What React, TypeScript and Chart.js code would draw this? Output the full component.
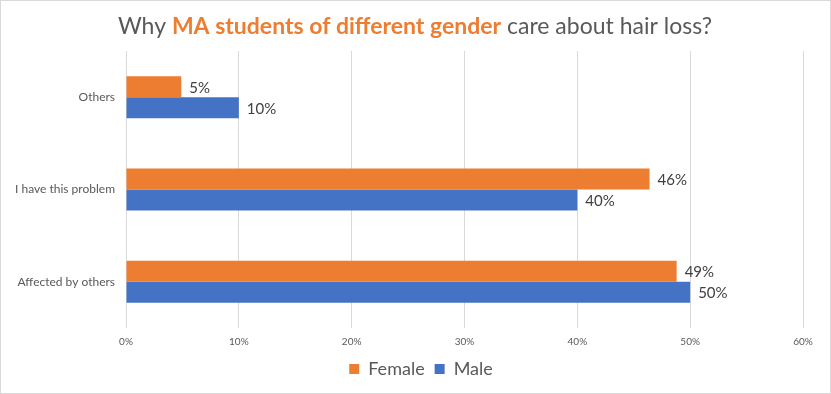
import React, { useEffect, useRef } from "react";
import { Chart, registerables } from "chart.js";

Chart.register(...registerables);

const categories = ["Others", "I have this problem", "Affected by others"];
const femaleValues = [4.9, 46.4, 48.8];
const maleValues = [10, 40, 50];
const femaleLabels = ["5%", "46%", "49%"];
const maleLabels = ["10%", "40%", "50%"];
const xTicks = [0, 10, 20, 30, 40, 50, 60];

const FONT = "Lato, 'Open Sans', sans-serif";

const titlePlugin = {
  id: "mixedTitle",
  afterDraw(chart: any) {
    const ctx = chart.ctx;
    const parts = [
      { t: "Why ", c: "#595959", w: "normal" },
      { t: "MA students of different gender", c: "#ED7D31", w: "bold" },
      { t: " care about hair loss?", c: "#595959", w: "normal" },
    ];
    const size = 23;
    ctx.save();
    let total = 0;
    const widths = parts.map((p) => {
      ctx.font = `${p.w} ${size}px ${FONT}`;
      const w = ctx.measureText(p.t).width;
      total += w;
      return w;
    });
    let x = 414 - total / 2;
    ctx.textBaseline = "middle";
    ctx.textAlign = "left";
    parts.forEach((p, i) => {
      ctx.font = `${p.w} ${size}px ${FONT}`;
      ctx.fillStyle = p.c;
      ctx.fillText(p.t, x, 26);
      x += widths[i];
    });
    ctx.restore();
  },
};

const dataLabelPlugin = {
  id: "dataLabels",
  afterDatasetsDraw(chart: any) {
    const ctx = chart.ctx;
    const labelSets = [femaleLabels, maleLabels];
    ctx.save();
    ctx.font = `15px ${FONT}`;
    ctx.fillStyle = "#404040";
    ctx.textAlign = "left";
    ctx.textBaseline = "middle";
    chart.data.datasets.forEach((_ds: any, di: number) => {
      const meta = chart.getDatasetMeta(di);
      meta.data.forEach((bar: any, i: number) => {
        ctx.fillText(labelSets[di][i], bar.x + 8, bar.y + 1);
      });
    });
    ctx.restore();
  },
};

const legendShiftPlugin = {
  id: "legendShift",
  afterLayout(chart: any) {
    if (chart.legend) {
      chart.legend.left += 19;
      chart.legend.right += 19;
    }
  },
};

export default function App() {
  const ref = useRef<HTMLCanvasElement>(null);
  useEffect(() => {
    document.body.style.margin = "0";
    const chart = new Chart(ref.current!, {
      type: "bar",
      data: {
        labels: categories,
        datasets: [
          {
            label: "Female",
            data: femaleValues,
            backgroundColor: "#ED7D31",
            borderWidth: 0,
          },
          {
            label: "Male",
            data: maleValues,
            backgroundColor: "#4472C4",
            borderWidth: 0,
          },
        ],
      },
      options: {
        indexAxis: "y",
        responsive: false,
        animation: false,
        maintainAspectRatio: false,
        datasets: {
          bar: { categoryPercentage: 0.455, barPercentage: 1 },
        },
        layout: { padding: { top: 50, right: 27, bottom: 5, left: 0 } },
        scales: {
          x: {
            min: 0,
            max: 60,
            afterBuildTicks(scale: any) {
              scale.ticks = xTicks.map((v) => ({ value: v }));
            },
            afterFit(scale: any) {
              scale.height = 22;
            },
            grid: { color: "#D9D9D9", drawTicks: false, lineWidth: 1 },
            border: { display: false },
            ticks: {
              padding: 8,
              color: "#595959",
              font: { family: FONT, size: 10 },
              callback: (v: any) => `${v}%`,
            },
          },
          y: {
            afterFit(scale: any) {
              scale.width = 125;
            },
            grid: { display: false, drawTicks: false },
            border: { display: false },
            ticks: {
              padding: 11,
              color: "#595959",
              font: { family: FONT, size: 12 },
            },
          },
        },
        plugins: {
          legend: {
            position: "bottom",
            labels: {
              boxWidth: 10,
              boxHeight: 10,
              padding: 10,
              color: "#595959",
              font: { family: FONT, size: 18 },
            },
          },
          tooltip: { enabled: false },
          title: { display: false },
        },
      },
      plugins: [titlePlugin, dataLabelPlugin, legendShiftPlugin],
    } as any);
    return () => chart.destroy();
  }, []);
  return (
    <div
      style={{
        width: 831,
        height: 394,
        boxSizing: "border-box",
        border: "1px solid #D9D9D9",
        background: "#fff",
      }}
    >
      <canvas ref={ref} width={829} height={392} style={{ display: "block" }} />
    </div>
  );
}
